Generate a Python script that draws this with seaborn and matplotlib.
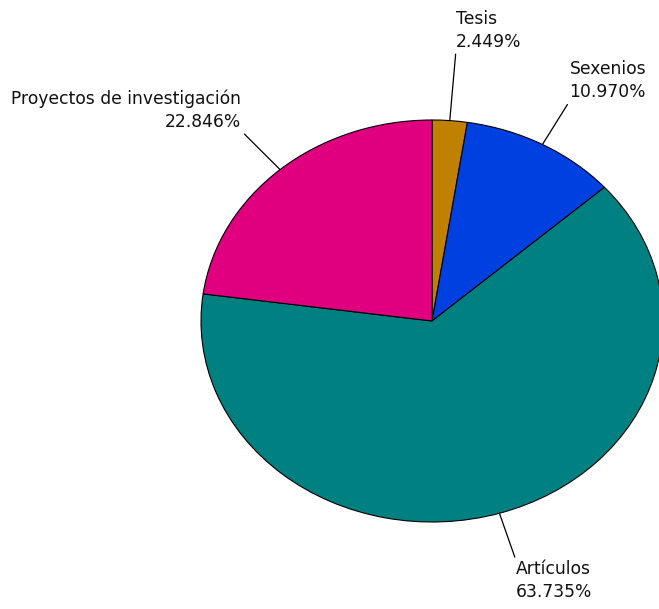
import numpy as np
import seaborn as sns
import matplotlib.pyplot as plt

# Data
categories = ['Tesis', 'Sexenios', 'Artículos', 'Proyectos de investigación']
shares = [2.449, 10.970, 63.735, 22.846]
colors = ['#c08000', '#0040e0', '#008080', '#e0007f']

# leader line length (pixels) for each label
leader_px = [70, 51, 50, 55]

sns.set_style("white")
plt.rcParams['font.family'] = ['DejaVu Sans']

fig = plt.figure(figsize=(6.59, 6.09), dpi=100)
ax = fig.add_axes([201 / 659, 87 / 609, 462 / 659, 402 / 609])

wedges, _ = ax.pie(shares, colors=colors, startangle=90, counterclock=False,
                   radius=1, wedgeprops=dict(edgecolor='black', linewidth=0.8))
ax.set_xlim(-1, 1)
ax.set_ylim(-1, 1)
ax.set_aspect('auto')
ax.axis('off')

total = sum(shares)
start = 90.0
for i, (name, val) in enumerate(zip(categories, shares)):
    span = val / total * 360
    mid = np.deg2rad(start - span / 2)
    start -= span
    edge = (np.cos(mid), np.sin(mid))
    p0 = ax.transData.transform((0, 0))
    p1 = ax.transData.transform(edge)
    d = (p1 - p0) / np.linalg.norm(p1 - p0)
    off = d * leader_px[i] * 72 / fig.dpi
    ha = 'left' if d[0] >= 0 else 'right'
    va = 'bottom' if d[1] >= 0 else 'top'
    rel = (0 if ha == 'left' else 1, 0 if va == 'bottom' else 1)
    ax.annotate('{}\n{:.3f}%'.format(name, val), xy=edge, xytext=off,
                textcoords='offset points', ha=ha, va=va, fontsize=12.3,
                linespacing=1.35, color='#111111',
                arrowprops=dict(arrowstyle='-', color='black', lw=0.9,
                                shrinkA=0, shrinkB=0, relpos=rel))

fig.savefig('out.png', dpi=100)
